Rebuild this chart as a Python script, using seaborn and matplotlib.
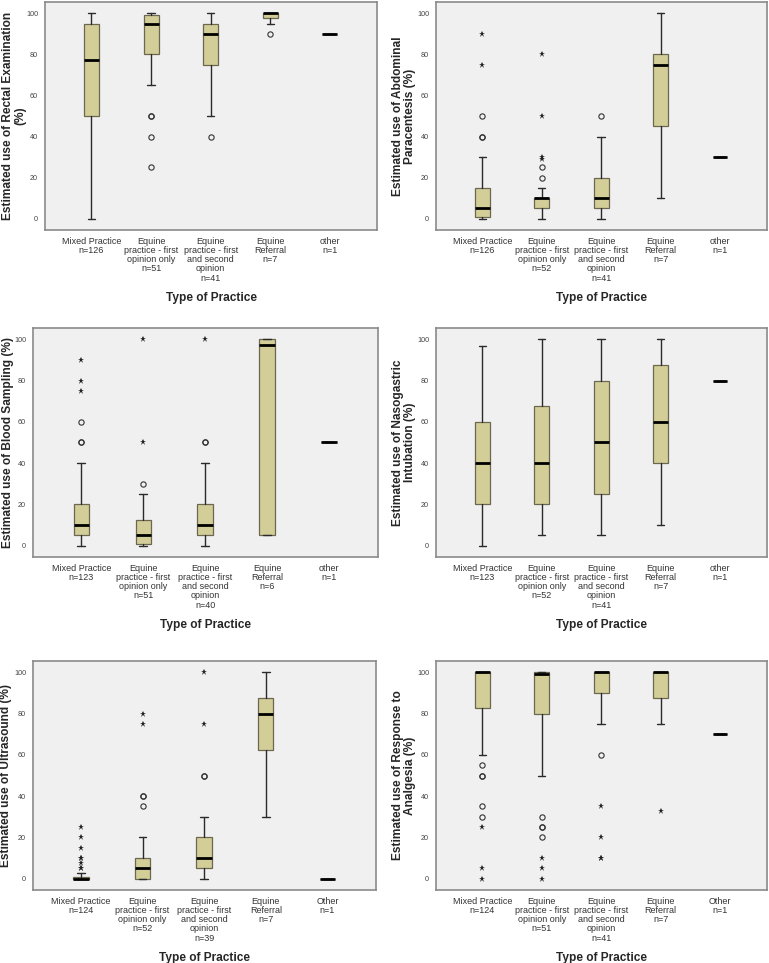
import matplotlib
matplotlib.use("Agg")
import matplotlib.pyplot as plt
import seaborn as sns

# categories (x) shared by all six panels
practice_types = ["Mixed Practice", "Equine\npractice - first\nopinion only",
                  "Equine\npractice - first\nand second\nopinion", "Equine\nReferral", "other"]
practice_types_cap = practice_types[:4] + ["Other"]

# box values per group: [whisker low, q1, median, q3, whisker high]
rectal_box = [[0, 50, 77.5, 95, 100], [65, 80, 95, 99, 100], [50, 75, 90, 95, 100],
              [95, 97.5, 100, 100, 100], [90, 90, 90, 90, 90]]
rectal_circles = [[], [50, 50, 40, 25], [40], [90], []]
rectal_stars = [[], [], [], [], []]
rectal_n = [126, 51, 41, 7, 1]

abdo_box = [[0, 1, 5, 15, 30], [0, 5, 10, 10, 15], [0, 5, 10, 20, 40],
            [10, 45, 75, 80, 100], [30, 30, 30, 30, 30]]
abdo_circles = [[50, 40, 40], [25, 20], [50], [], []]
abdo_stars = [[90, 75], [80, 50, 30, 29], [], [], []]
abdo_n = [126, 52, 41, 7, 1]

blood_box = [[0, 5, 10, 20, 40], [0, 1, 5, 12.5, 25], [0, 5, 10, 20, 40],
             [5, 5, 97.5, 100, 100], [50, 50, 50, 50, 50]]
blood_circles = [[60, 50, 50], [30], [50, 50], [], []]
blood_stars = [[90, 80, 75], [100, 50], [100], [], []]
blood_n = [123, 51, 40, 6, 1]

naso_box = [[0, 20, 40, 60, 97], [5, 20, 40, 67.5, 100], [5, 25, 50, 80, 100],
            [10, 40, 60, 87.5, 100], [80, 80, 80, 80, 80]]
naso_circles = [[], [], [], [], []]
naso_stars = [[], [], [], [], []]
naso_n = [123, 52, 41, 7, 1]

ultra_box = [[0, 0, 0, 1, 2.5], [0, 0, 5, 10, 20], [0, 5, 10, 20, 30],
             [30, 62.5, 80, 87.5, 100], [0, 0, 0, 0, 0]]
ultra_circles = [[], [40, 40, 35], [50, 50], [], []]
ultra_stars = [[25, 20, 15, 10, 10, 7.5, 5, 5], [80, 75], [100, 75], [], []]
ultra_n = [124, 52, 39, 7, 1]

analg_box = [[60, 82.5, 100, 100, 100], [50, 80, 99, 100, 100], [75, 90, 100, 100, 100],
             [75, 87.5, 100, 100, 100], [70, 70, 70, 70, 70]]
analg_circles = [[55, 50, 50, 35, 30], [30, 25, 25, 20], [60], [], []]
analg_stars = [[25, 5, 0], [10, 5, 0], [35, 20, 10, 10], [33], []]
analg_n = [124, 51, 41, 7, 1]

BOX_FILL = "#d3ce97"
PANEL_BG = "#f0f0f0"

sns.set_theme(style="white")
plt.rcParams['font.family'] = ['Liberation Sans', 'DejaVu Sans']

fig = plt.figure(figsize=(7.69, 9.63), dpi=100)
W, H = 769, 963


def add_panel(left, top, right, bottom):
    return fig.add_axes([left / W, 1 - bottom / H, (right - left) / W, (bottom - top) / H])


def draw_panel(ax, box, circles, stars, ns, cats, ylabel, label_x):
    stats = [dict(whislo=b[0], q1=b[1], med=b[2], q3=b[3], whishi=b[4], fliers=[]) for b in box]
    pos = list(range(1, len(stats) + 1))
    ax.bxp(stats, positions=pos, widths=0.25, patch_artist=True, showfliers=False,
           boxprops=dict(facecolor=BOX_FILL, edgecolor="#6b6750", linewidth=0.9),
           medianprops=dict(color="black", linewidth=2.0),
           whiskerprops=dict(color="#2a2a2a", linewidth=1.0),
           capprops=dict(color="#2a2a2a", linewidth=1.0))
    for p, vals in zip(pos, circles):
        ax.plot([p] * len(vals), vals, "o", ms=3.8, mfc="none", mec="#333333", mew=0.8)
    for p, vals in zip(pos, stars):
        ax.plot([p] * len(vals), vals, "*", ms=5, color="#222222", mew=0)

    ax.set_facecolor(PANEL_BG)
    ax.set_xlim(0.22, 5.79)
    ax.set_ylim(-5.5, 105.5)
    ax.set_xticks(pos)
    ax.set_xticklabels([f"{c}\nn={k}" for c, k in zip(cats, ns)],
                       fontsize=6.5, color="#333333", linespacing=1.02)
    ax.set_yticks([0, 20, 40, 60, 80, 100])
    ax.set_yticklabels(["0", "20", "40", "60", "80", "100"], fontsize=5.2, color="#444444")
    ax.tick_params(axis="both", direction="out", length=3, width=0.8, color="#555555", pad=2)
    for s in ax.spines.values():
        s.set_color("#8a8a8a")
        s.set_linewidth(1.2)
    ax.set_xlabel("Type of Practice", fontsize=8.6, fontweight="bold", labelpad=7)
    ax.set_ylabel(ylabel, fontsize=8.6, fontweight="bold", linespacing=1.0)
    ax.yaxis.set_label_coords(label_x, 0.5)


ax1 = add_panel(45, 2, 377, 230)
draw_panel(ax1, rectal_box, rectal_circles, rectal_stars, rectal_n, practice_types,
           "Estimated use of Rectal Examination\n(%)", -0.057)
ax2 = add_panel(436, 2, 767, 230)
draw_panel(ax2, abdo_box, abdo_circles, abdo_stars, abdo_n, practice_types,
           "Estimated use of Abdominal\nParacentesis (%)", -0.060)
ax3 = add_panel(33, 328, 378, 557)
draw_panel(ax3, blood_box, blood_circles, blood_stars, blood_n, practice_types,
           "Estimated use of Blood Sampling (%)", -0.055)
ax4 = add_panel(436, 328, 767, 557)
draw_panel(ax4, naso_box, naso_circles, naso_stars, naso_n, practice_types,
           "Estimated use of Nasogastric\nIntubation (%)", -0.060)
ax5 = add_panel(33, 661, 376, 890)
draw_panel(ax5, ultra_box, ultra_circles, ultra_stars, ultra_n, practice_types_cap,
           "Estimated use of Ultrasound (%)", -0.060)
ax6 = add_panel(436, 661, 767, 890)
draw_panel(ax6, analg_box, analg_circles, analg_stars, analg_n, practice_types_cap,
           "Estimated use of Response to\nAnalgesia (%)", -0.060)

fig.savefig("out.png", dpi=100)
